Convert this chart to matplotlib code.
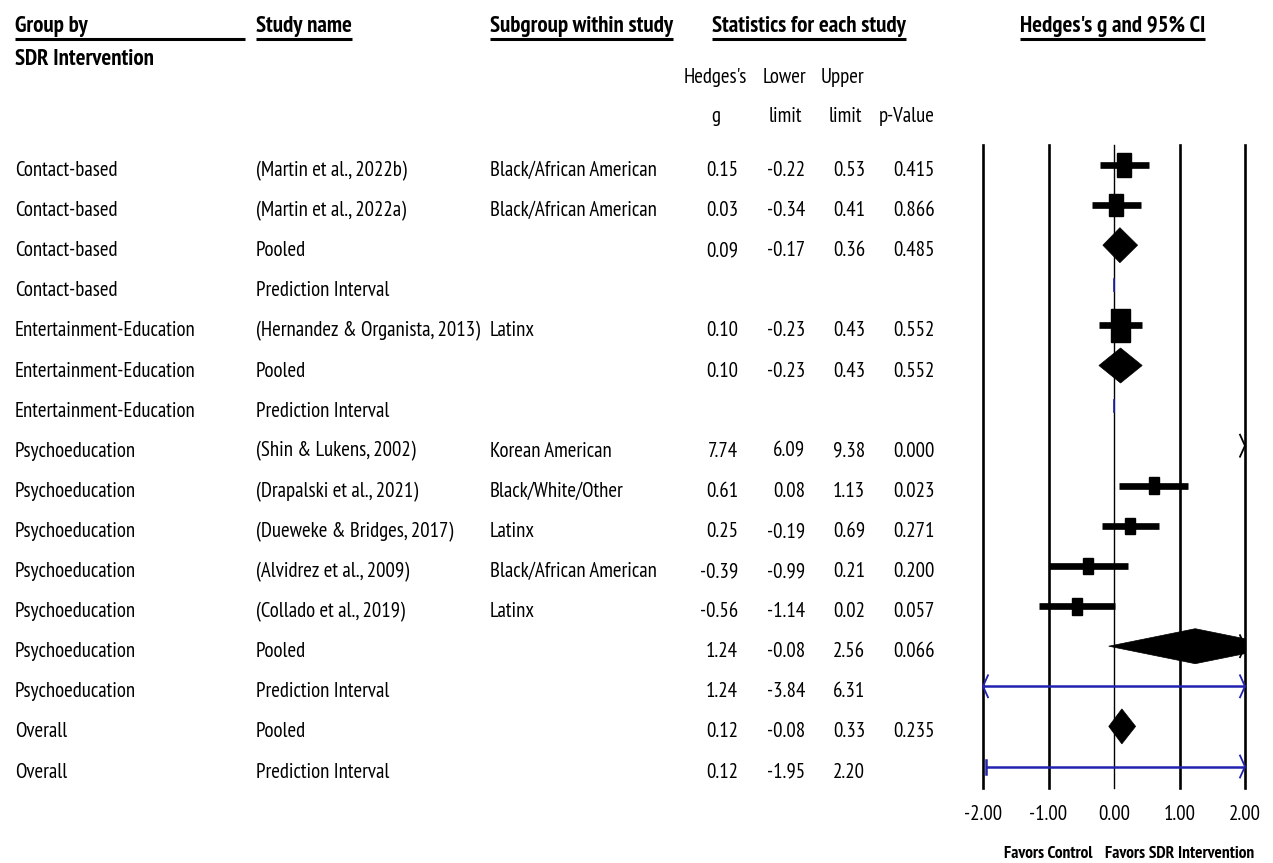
import matplotlib
matplotlib.use('Agg')
import matplotlib.pyplot as plt
from matplotlib.patches import Rectangle, Polygon
import numpy as np

nan = np.nan

# ---------------- data ----------------
groups = (["Contact-based"] * 4 + ["Entertainment-Education"] * 3 +
          ["Psychoeducation"] * 7 + ["Overall"] * 2)
studies = ["(Martin et al., 2022b)", "(Martin et al., 2022a)", "Pooled", "Prediction Interval",
           "(Hernandez & Organista, 2013)", "Pooled", "Prediction Interval",
           "(Shin & Lukens, 2002)", "(Drapalski et al., 2021)", "(Dueweke & Bridges, 2017)",
           "(Alvidrez et al., 2009)", "(Collado et al., 2019)", "Pooled", "Prediction Interval",
           "Pooled", "Prediction Interval"]
subgroups = ["Black/African American", "Black/African American", "", "",
             "Latinx", "", "",
             "Korean American", "Black/White/Other", "Latinx", "Black/African American", "Latinx",
             "", "", "", ""]
hedges_g = [0.15, 0.03, 0.09, nan, 0.10, 0.10, nan, 7.74, 0.61, 0.25, -0.39, -0.56,
            1.24, 1.24, 0.12, 0.12]
lower = [-0.22, -0.34, -0.17, nan, -0.23, -0.23, nan, 6.09, 0.08, -0.19, -0.99, -1.14,
         -0.08, -3.84, -0.08, -1.95]
upper = [0.53, 0.41, 0.36, nan, 0.43, 0.43, nan, 9.38, 1.13, 0.69, 0.21, 0.02,
         2.56, 6.31, 0.33, 2.20]
p_values = ["0.415", "0.866", "0.485", "", "0.552", "0.552", "", "0.000", "0.023", "0.271",
            "0.200", "0.057", "0.066", "", "0.235", ""]
rel_weight = [1.4, 1.35, nan, nan, 1.95, nan, nan, 1.0, 1.0, 1.0, 1.0, 1.0,
              nan, nan, nan, nan]
x_ticks = [-2.0, -1.0, 0.0, 1.0, 2.0]
x_tick_labels = ["-2.00", "-1.00", "0.00", "1.00", "2.00"]

# ---------------- style ----------------
FONT = ['PT Sans Narrow', 'Fira Sans Condensed', 'DejaVu Sans']
plt.rcParams['font.family'] = FONT
BLUE = '#2222b0'
W, H = 1273, 863
ROW0, DY = 165.0, 40.1          # pixel y of row 0 centre, row spacing
TOP_PX, BOT_PX = 145.0, 788.0
X_LEFT_PX, X_RIGHT_PX = 983.0, 1245.0


def row(ypx):
    return (ypx - ROW0) / DY


fig = plt.figure(figsize=(W / 100, H / 100), dpi=100)
ax_pos_y = (H - BOT_PX) / H
ax_h = (BOT_PX - TOP_PX) / H

tab = fig.add_axes([0, ax_pos_y, 1, ax_h])
tab.set_xlim(0, W)
tab.set_ylim(row(BOT_PX), row(TOP_PX))
tab.axis('off')

BODY = 15
HEAD = 16.5

fp = fig.add_axes([X_LEFT_PX / W, ax_pos_y, (X_RIGHT_PX - X_LEFT_PX) / W, ax_h])
fp.set_xlim(-2, 2)
fp.set_ylim(row(BOT_PX), row(TOP_PX))
for s in fp.spines.values():
    s.set_visible(False)
fp.set_yticks([])
fp.set_xticks(x_ticks)
fp.set_xticklabels(x_tick_labels, fontsize=BODY)
fp.tick_params(axis='x', length=0, pad=12)

# ---------------- headers ----------------
fig.canvas.draw()
renderer = fig.canvas.get_renderer()
hdr_base = row(32)
ul_y = row(39)
headers = [("Group by", 15, 245), ("Study name", 256, None),
           ("Subgroup within study", 490, None), ("Statistics for each study", 712, None),
           ("Hedges's g and 95% CI", 1020, None)]
for txt, x0, x1 in headers:
    t = tab.text(x0, hdr_base, txt, fontsize=HEAD, fontweight='bold', ha='left',
                 va='baseline', clip_on=False)
    if x1 is None:
        bb = t.get_window_extent(renderer=renderer)
        x1 = x0 + bb.width
    tab.plot([x0, x1], [ul_y, ul_y], color='black', lw=2.2, clip_on=False,
             solid_capstyle='butt')
tab.text(15, row(65), "SDR Intervention", fontsize=HEAD, fontweight='bold', ha='left',
         va='baseline', clip_on=False)

sub1 = row(83)
sub2 = row(122)
tab.text(715, sub1, "Hedges's", fontsize=BODY, ha='center', va='baseline', clip_on=False)
tab.text(716, sub2, "g", fontsize=BODY, ha='center', va='baseline', clip_on=False)
tab.text(784, sub1, "Lower", fontsize=BODY, ha='center', va='baseline', clip_on=False)
tab.text(785, sub2, "limit", fontsize=BODY, ha='center', va='baseline', clip_on=False)
tab.text(842, sub1, "Upper", fontsize=BODY, ha='center', va='baseline', clip_on=False)
tab.text(845, sub2, "limit", fontsize=BODY, ha='center', va='baseline', clip_on=False)
tab.text(935, sub2, "p-Value", fontsize=BODY, ha='right', va='baseline', clip_on=False)

# ---------------- table rows ----------------
TXT_OFF = 11 / DY
for i in range(len(groups)):
    yb = i + TXT_OFF
    tab.text(15, yb, groups[i], fontsize=BODY, ha='left', va='baseline')
    tab.text(256, yb, studies[i], fontsize=BODY, ha='left', va='baseline')
    if subgroups[i]:
        tab.text(490, yb, subgroups[i], fontsize=BODY, ha='left', va='baseline')
    if not np.isnan(hedges_g[i]):
        tab.text(738, yb, f"{hedges_g[i]:.2f}", fontsize=BODY, ha='right', va='baseline')
        tab.text(805, yb, f"{lower[i]:.2f}", fontsize=BODY, ha='right', va='baseline')
        tab.text(865, yb, f"{upper[i]:.2f}", fontsize=BODY, ha='right', va='baseline')
    if p_values[i]:
        tab.text(935, yb, p_values[i], fontsize=BODY, ha='right', va='baseline')

# ---------------- forest plot ----------------
for xt in x_ticks:
    fp.axvline(xt, color='black', lw=1.0 if xt == 0 else 1.9, zorder=1, clip_on=False)

XMIN, XMAX = fp.get_xlim()
px_per_unit = (X_RIGHT_PX - X_LEFT_PX) / (XMAX - XMIN)
CH_W = 5 / px_per_unit        # chevron depth in data units
CH_H = 11 / DY                # chevron half-height in rows


def chevron(y, side, color):
    if side == 'right':
        xs = [XMAX - CH_W, XMAX, XMAX - CH_W]
    else:
        xs = [XMIN + CH_W, XMIN, XMIN + CH_W]
    fp.plot(xs, [y - CH_H, y, y + CH_H], color=color, lw=1.3, clip_on=False, zorder=4)


for i in range(len(groups)):
    kind = ('pooled' if studies[i] == 'Pooled' else
            'pi' if studies[i] == 'Prediction Interval' else 'study')
    g, lo, hi = hedges_g[i], lower[i], upper[i]
    if kind == 'pi':
        if np.isnan(g):
            fp.plot([0, 0], [i - 6 / DY, i + 6 / DY], color=BLUE, lw=1.2, zorder=3)
            continue
        a, b = max(lo, XMIN), min(hi, XMAX)
        fp.plot([a, b], [i, i], color=BLUE, lw=1.8, clip_on=False, zorder=3,
                solid_capstyle='butt')
        if lo < XMIN:
            chevron(i, 'left', BLUE)
        else:
            fp.plot([lo, lo], [i - 7 / DY, i + 7 / DY], color=BLUE, lw=1.8, zorder=3)
        if hi > XMAX:
            chevron(i, 'right', BLUE)
        continue
    if kind == 'pooled':
        hh = 17.5 / DY
        poly = Polygon([[lo, i], [g, i - hh], [hi, i], [g, i + hh]], closed=True,
                       facecolor='black', edgecolor='black', lw=0.5, zorder=4)
        fp.add_patch(poly)
        if hi > XMAX:
            chevron(i, 'right', 'black')
        continue
    # individual study
    if lo > XMAX:
        chevron(i, 'right', 'black')
        continue
    fp.plot([lo, hi], [i, i], color='black', lw=4.8, zorder=3, solid_capstyle='butt')
    w = rel_weight[i] * 10 / px_per_unit
    h = rel_weight[i] * 16.8 / DY
    fp.add_patch(Rectangle((g - w / 2, i - h / 2), w, h, facecolor='black',
                           edgecolor='black', zorder=4))

fav_y = row(858)
fp.text(-1, fav_y, "Favors Control", fontsize=12.5, fontweight='bold', ha='center',
        va='baseline', clip_on=False)
fp.text(1, fav_y, "Favors SDR Intervention", fontsize=12.5, fontweight='bold',
        ha='center', va='baseline', clip_on=False)

fig.savefig('out.png', dpi=100)
